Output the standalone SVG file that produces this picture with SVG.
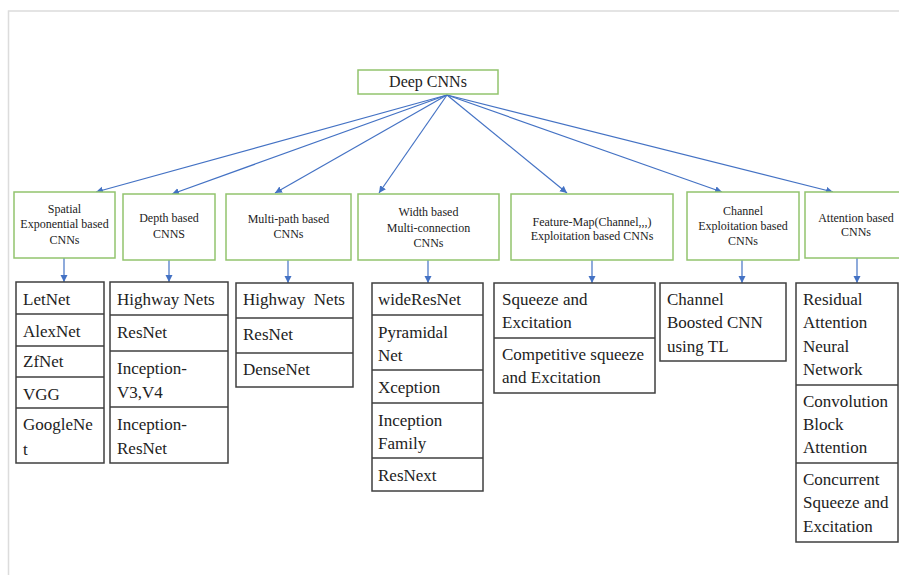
<svg xmlns="http://www.w3.org/2000/svg" width="899" height="575" viewBox="0 0 899 575">
<style>
.frame{stroke:#dcdcdc;stroke-width:1.5;fill:none}
.hdr{fill:#fff;stroke:#92c46e;stroke-width:1.5}
.lst{fill:#fff;stroke:#3f3f3f;stroke-width:1.5}
.div{stroke:#3f3f3f;stroke-width:1.5}
.con{stroke:#4472c4;stroke-width:1.2;fill:none}
text{font-family:'Liberation Serif','Times New Roman','DejaVu Serif',serif;fill:#222}
.h{font-size:12px;text-anchor:middle}
.t{font-size:17px}
.root{font-size:16px;text-anchor:middle}
</style>
<defs>
<marker id="ah" markerUnits="userSpaceOnUse" markerWidth="8" markerHeight="8" refX="7" refY="3.5" orient="auto">
<path d="M0,0 L7,3.5 L0,7 Z" fill="#4472c4"/>
</marker>
</defs>
<rect width="899" height="575" fill="#fff"/>
<path class="frame" d="M8.5,575 L8.5,11 L899,11"/>

<g id="connectors">
<line class="con" x1="447" y1="95" x2="96" y2="192" marker-end="url(#ah)"/>
<line class="con" x1="447" y1="95" x2="172" y2="194" marker-end="url(#ah)"/>
<line class="con" x1="447" y1="95" x2="275" y2="193" marker-end="url(#ah)"/>
<line class="con" x1="447" y1="95" x2="379" y2="193" marker-end="url(#ah)"/>
<line class="con" x1="447" y1="95" x2="567" y2="193" marker-end="url(#ah)"/>
<line class="con" x1="447" y1="95" x2="722" y2="192" marker-end="url(#ah)"/>
<line class="con" x1="447" y1="95" x2="833" y2="192" marker-end="url(#ah)"/>
<line class="con" x1="64" y1="258" x2="64" y2="282" marker-end="url(#ah)"/>
<line class="con" x1="169" y1="260" x2="169" y2="282" marker-end="url(#ah)"/>
<line class="con" x1="288" y1="260" x2="288" y2="283" marker-end="url(#ah)"/>
<line class="con" x1="428" y1="260" x2="428" y2="283" marker-end="url(#ah)"/>
<line class="con" x1="592" y1="260" x2="592" y2="283" marker-end="url(#ah)"/>
<line class="con" x1="742" y1="260" x2="742" y2="283" marker-end="url(#ah)"/>
<line class="con" x1="857" y1="258" x2="857" y2="283" marker-end="url(#ah)"/>
</g>

<g id="root">
<rect class="hdr" x="358" y="70" width="140" height="24"/>
<text class="root" x="428" y="87">Deep CNNs</text>
</g>

<g id="h-spatial">
<rect class="hdr" x="14" y="192" width="101" height="66"/>
<text class="h" x="64.5" y="213">Spatial</text>
<text class="h" x="64.5" y="228">Exponential based</text>
<text class="h" x="64.5" y="244">CNNs</text>
</g>
<g id="h-depth">
<rect class="hdr" x="123" y="194" width="92" height="66"/>
<text class="h" x="169" y="222">Depth based</text>
<text class="h" x="169" y="238">CNNS</text>
</g>
<g id="h-multipath">
<rect class="hdr" x="226" y="194" width="125" height="66"/>
<text class="h" x="288.5" y="223">Multi-path based</text>
<text class="h" x="288.5" y="238">CNNs</text>
</g>
<g id="h-width">
<rect class="hdr" x="358" y="194" width="141" height="66"/>
<text class="h" x="428.5" y="216">Width based</text>
<text class="h" x="428.5" y="232">Multi-connection</text>
<text class="h" x="428.5" y="247">CNNs</text>
</g>
<g id="h-feature">
<rect class="hdr" x="511" y="194" width="162" height="66"/>
<text class="h" x="592" y="226">Feature-Map(Channel,,,)</text>
<text class="h" x="592" y="240">Exploitation based CNNs</text>
</g>
<g id="h-channel">
<rect class="hdr" x="687" y="192" width="112" height="68"/>
<text class="h" x="743" y="215">Channel</text>
<text class="h" x="743" y="230">Exploitation based</text>
<text class="h" x="743" y="245">CNNs</text>
</g>
<g id="h-attention">
<rect class="hdr" x="805" y="192" width="96" height="66"/>
<text class="h" x="856" y="222">Attention based</text>
<text class="h" x="856" y="236">CNNs</text>
</g>

<g id="l-spatial">
<rect class="lst" x="16" y="282" width="88" height="181"/>
<line class="div" x1="16" y1="314" x2="104" y2="314"/>
<line class="div" x1="16" y1="346" x2="104" y2="346"/>
<line class="div" x1="16" y1="377" x2="104" y2="377"/>
<line class="div" x1="16" y1="408" x2="104" y2="408"/>
<text class="t" x="23" y="305">LetNet</text>
<text class="t" x="23" y="337">AlexNet</text>
<text class="t" x="23" y="367">ZfNet</text>
<text class="t" x="23" y="400">VGG</text>
<text class="t" x="23" y="430">GoogleNe</text>
<text class="t" x="23" y="455">t</text>
</g>
<g id="l-depth">
<rect class="lst" x="110" y="282" width="118" height="181"/>
<line class="div" x1="110" y1="315" x2="228" y2="315"/>
<line class="div" x1="110" y1="351" x2="228" y2="351"/>
<line class="div" x1="110" y1="407" x2="228" y2="407"/>
<text class="t" x="117" y="305">Highway Nets</text>
<text class="t" x="117" y="338">ResNet</text>
<text class="t" x="117" y="374">Inception-</text>
<text class="t" x="117" y="398">V3,V4</text>
<text class="t" x="117" y="430">Inception-</text>
<text class="t" x="117" y="454">ResNet</text>
</g>
<g id="l-multipath">
<rect class="lst" x="236" y="283" width="117" height="104"/>
<line class="div" x1="236" y1="318" x2="353" y2="318"/>
<line class="div" x1="236" y1="353" x2="353" y2="353"/>
<text class="t" x="243" y="305" xml:space="preserve">Highway  Nets</text>
<text class="t" x="243" y="340">ResNet</text>
<text class="t" x="243" y="375">DenseNet</text>
</g>
<g id="l-width">
<rect class="lst" x="372" y="283" width="111" height="208"/>
<line class="div" x1="372" y1="315" x2="483" y2="315"/>
<line class="div" x1="372" y1="370" x2="483" y2="370"/>
<line class="div" x1="372" y1="403" x2="483" y2="403"/>
<line class="div" x1="372" y1="458" x2="483" y2="458"/>
<text class="t" x="378" y="305">wideResNet</text>
<text class="t" x="378" y="338">Pyramidal</text>
<text class="t" x="378" y="361">Net</text>
<text class="t" x="378" y="393">Xception</text>
<text class="t" x="378" y="426">Inception</text>
<text class="t" x="378" y="449">Family</text>
<text class="t" x="378" y="481">ResNext</text>
</g>
<g id="l-feature">
<rect class="lst" x="494" y="283" width="161" height="110"/>
<line class="div" x1="494" y1="338" x2="655" y2="338"/>
<text class="t" x="502" y="305">Squeeze and</text>
<text class="t" x="502" y="328">Excitation</text>
<text class="t" x="502" y="360">Competitive squeeze</text>
<text class="t" x="502" y="383">and Excitation</text>
</g>
<g id="l-channel">
<rect class="lst" x="660" y="283" width="126" height="78"/>
<text class="t" x="667" y="305">Channel</text>
<text class="t" x="667" y="328">Boosted CNN</text>
<text class="t" x="667" y="352">using TL</text>
</g>
<g id="l-attention">
<rect class="lst" x="796" y="283" width="102" height="259"/>
<line class="div" x1="796" y1="385" x2="898" y2="385"/>
<line class="div" x1="796" y1="463" x2="898" y2="463"/>
<text class="t" x="803" y="305">Residual</text>
<text class="t" x="803" y="328">Attention</text>
<text class="t" x="803" y="352">Neural</text>
<text class="t" x="803" y="375">Network</text>
<text class="t" x="803" y="407">Convolution</text>
<text class="t" x="803" y="430">Block</text>
<text class="t" x="803" y="453">Attention</text>
<text class="t" x="803" y="485">Concurrent</text>
<text class="t" x="803" y="508">Squeeze and</text>
<text class="t" x="803" y="532">Excitation</text>
</g>
</svg>
